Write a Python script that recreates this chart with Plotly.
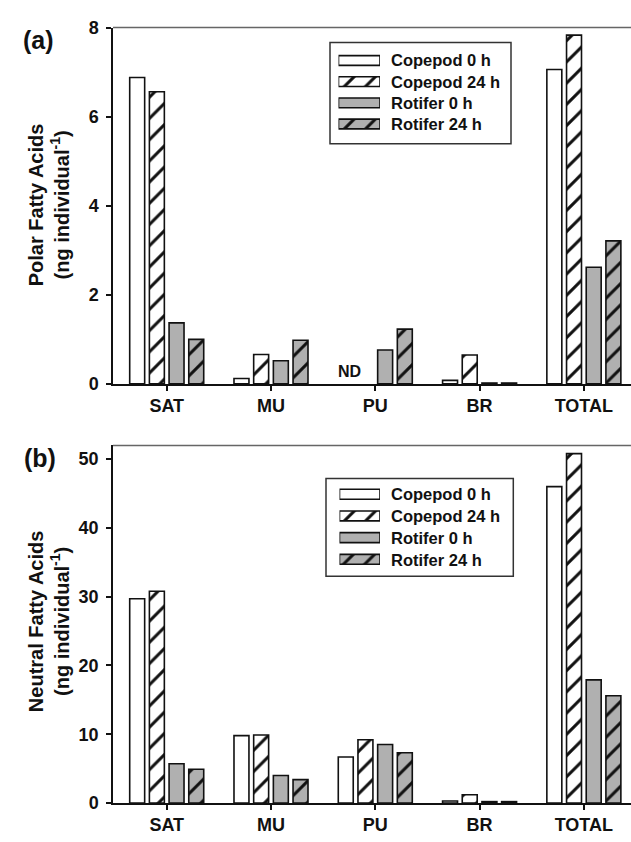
import plotly.graph_objects as go

# ---- data -------------------------------------------------------------
categories = ["SAT", "MU", "PU", "BR", "TOTAL"]
series_names = ["Copepod 0 h", "Copepod 24 h", "Rotifer 0 h", "Rotifer 24 h"]

# (a) polar fatty acids, ng per individual (copepod PU not detected)
polar_copepod_0h = [6.88, 0.12, None, 0.08, 7.06]
polar_copepod_24h = [6.56, 0.66, None, 0.65, 7.83]
polar_rotifer_0h = [1.37, 0.52, 0.76, 0.02, 2.62]
polar_rotifer_24h = [1.00, 0.98, 1.23, 0.02, 3.21]

# (b) neutral fatty acids, ng per individual
neutral_copepod_0h = [29.7, 9.8, 6.7, 0.3, 46.0]
neutral_copepod_24h = [30.8, 9.9, 9.2, 1.2, 50.8]
neutral_rotifer_0h = [5.7, 4.0, 8.5, 0.2, 17.9]
neutral_rotifer_24h = [4.9, 3.4, 7.3, 0.2, 15.6]

polar_series = [polar_copepod_0h, polar_copepod_24h, polar_rotifer_0h, polar_rotifer_24h]
neutral_series = [neutral_copepod_0h, neutral_copepod_24h, neutral_rotifer_0h, neutral_rotifer_24h]

# ---- styling ----------------------------------------------------------
W, H = 631, 842
FONT = "Liberation Sans, Arial, Helvetica, sans-serif"
INK = "#111111"
GRAY = "#b0b0b0"
fills = ["white", "white", GRAY, GRAY]
hatches = ["", "/", "", "/"]


def fx(p):
    return p / W


def fy(p):
    return 1 - p / H


def bar_marker(fill, hatch):
    return dict(
        color=fill,
        line=dict(color=INK, width=1.6),
        pattern=dict(shape=hatch, fgcolor=INK, bgcolor=fill, size=15,
                     solidity=0.2, fillmode="replace"),
    )


fig = go.Figure()


def add_panel(series, xa, ya):
    for name, vals, fill, hatch in zip(series_names, series, fills, hatches):
        fig.add_trace(go.Bar(
            x=categories, y=vals, name=name, showlegend=False,
            xaxis=xa, yaxis=ya, marker=bar_marker(fill, hatch),
        ))


add_panel(polar_series, "x", "y")
add_panel(neutral_series, "x2", "y2")


# legend swatches drawn as horizontal bars on small hidden axes
def add_key(xa, ya):
    for i, (name, fill, hatch) in enumerate(zip(series_names, fills, hatches)):
        fig.add_trace(go.Bar(
            y=[i], x=[1], orientation="h", width=0.46, offsetgroup="key",
            xaxis=xa, yaxis=ya, showlegend=False, hoverinfo="skip",
            marker=bar_marker(fill, hatch),
        ))


add_key("x3", "y3")
add_key("x4", "y4")

tickfont = dict(family=FONT, size=18, color=INK, weight="bold")

common_x = dict(
    type="category", range=[-0.515, 4.452], domain=[fx(113), 1.0],
    showline=True, linecolor=INK, linewidth=1.5,
    ticks="outside", ticklen=5, tickwidth=1.5, tickcolor=INK,
    tickfont=tickfont, showgrid=False, zeroline=False, fixedrange=True,
)
common_y = dict(
    showline=True, linecolor=INK, linewidth=1.5,
    ticks="outside", ticklen=5, tickwidth=1.5, tickcolor=INK,
    tickfont=tickfont, showgrid=False, zeroline=False,
    ticklabelstandoff=4, fixedrange=True,
)
key_x = dict(range=[0, 1], visible=False, fixedrange=True)

fig.update_layout(
    width=W, height=H, autosize=False,
    margin=dict(l=0, r=0, t=0, b=0),
    paper_bgcolor="white", plot_bgcolor="rgba(0,0,0,0)",
    barmode="group", bargap=0.245, bargroupgap=0.24,
    font=dict(family=FONT, color=INK),
    xaxis=dict(common_x, anchor="y"),
    yaxis=dict(common_y, anchor="x", domain=[fy(383), fy(18)],
               range=[0, 8], tickvals=[0, 2, 4, 6, 8]),
    xaxis2=dict(common_x, anchor="y2"),
    yaxis2=dict(common_y, anchor="x2", domain=[fy(812.3), fy(446)],
                range=[0, 52], tickvals=[0, 10, 20, 30, 40, 50]),
    xaxis3=dict(key_x, anchor="y3", domain=[fx(338.5), fx(380)]),
    yaxis3=dict(anchor="x3", domain=[fy(127.6), fy(40.9)], range=[3.5, -0.5],
                visible=False, fixedrange=True),
    xaxis4=dict(key_x, anchor="y4", domain=[fx(339.5), fx(380)]),
    yaxis4=dict(anchor="x4", domain=[fy(573.8), fy(484.9)], range=[3.5, -0.5],
                visible=False, fixedrange=True),
)

shapes = []
# top frame lines of each panel
for xr, yr in (("x domain", "y domain"), ("x2 domain", "y2 domain")):
    shapes.append(dict(type="line", xref=xr, yref=yr, x0=0, x1=1, y0=1, y1=1,
                       line=dict(color="#666666", width=1.5)))
# legend boxes
shapes.append(dict(type="rect", xref="paper", yref="paper",
                   x0=fx(330), x1=fx(511), y0=fy(137), y1=fy(33.3),
                   line=dict(color="#333333", width=1.5)))
shapes.append(dict(type="rect", xref="paper", yref="paper",
                   x0=fx(326), x1=fx(513.3), y0=fy(580), y1=fy(480),
                   line=dict(color="#333333", width=1.5)))
fig.update_layout(shapes=shapes)

annotations = []
label_font = dict(family=FONT, size=16.5, color=INK, weight="bold")
for rows in ([51.7, 73.4, 95.1, 116.8], [496.0, 518.3, 540.6, 562.9]):
    for name, yc in zip(series_names, rows):
        annotations.append(dict(
            text=name, xref="paper", yref="paper", x=fx(389), y=fy(yc),
            xanchor="left", yanchor="middle", showarrow=False, font=label_font,
        ))

title_font = dict(family=FONT, size=20, color=INK, weight="bold")
annotations.append(dict(
    text="Polar Fatty Acids<br>(ng individual<sup>-1</sup>)",
    xref="paper", yref="paper", x=fx(49), y=fy(200), textangle=-90,
    xanchor="center", yanchor="middle", showarrow=False, font=title_font,
))
annotations.append(dict(
    text="Neutral Fatty Acids<br>(ng individual<sup>-1</sup>)",
    xref="paper", yref="paper", x=fx(49), y=fy(626), textangle=-90,
    xanchor="center", yanchor="middle", showarrow=False, font=title_font,
))

panel_font = dict(family=FONT, size=25, color=INK, weight="bold")
annotations.append(dict(text="(a)", xref="paper", yref="paper",
                        x=fx(38.5), y=fy(31), xanchor="center", yanchor="middle",
                        showarrow=False, font=panel_font))
annotations.append(dict(text="(b)", xref="paper", yref="paper",
                        x=fx(39.5), y=fy(459), xanchor="center", yanchor="middle",
                        showarrow=False, font=panel_font))

# copepod PU not detected
annotations.append(dict(text="ND", xref="x", yref="y", x="PU", y=0,
                        xshift=-26, yshift=2, xanchor="center", yanchor="bottom",
                        showarrow=False,
                        font=dict(family=FONT, size=16, color=INK, weight="bold")))

fig.update_layout(annotations=annotations)

fig.write_html("out.html")
